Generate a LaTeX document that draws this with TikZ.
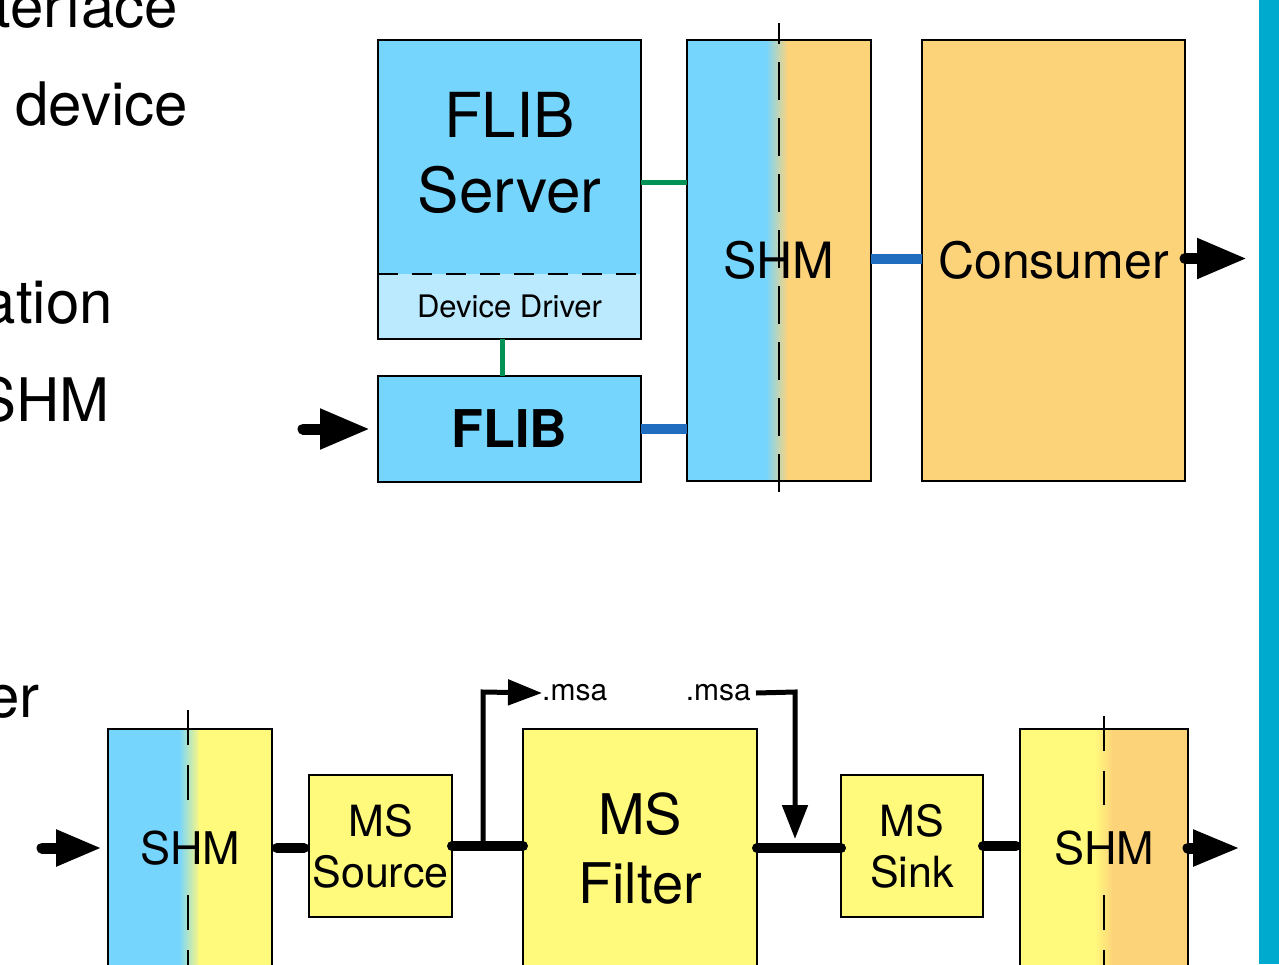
\documentclass[tikz,border=0pt]{standalone}
\usepackage{fontspec}
\setmainfont{TeX Gyre Heros}
\usetikzlibrary{arrows.meta}

\definecolor{flibblue}{RGB}{118,213,253}
\definecolor{drvblue}{RGB}{187,233,253}
\definecolor{shmorange}{RGB}{253,211,122}
\definecolor{msyellow}{RGB}{255,249,124}
\definecolor{linkgreen}{RGB}{0,146,84}
\definecolor{linkblue}{RGB}{32,108,190}
\definecolor{sidebar}{RGB}{0,169,206}

\newcommand\fsz[2]{\fontsize{#1}{#2}\selectfont}

\tikzset{
  box/.style={draw=black, line width=2.8pt, inner sep=0pt, outer sep=0pt,
              anchor=north west, align=center},
  bare/.style={box, draw=none},
  divider/.style={line width=2.4pt, dash pattern=on 35pt off 20pt},
  greenlink/.style={draw=linkgreen, line width=5pt},
  bluelink/.style={draw=linkblue, line width=10pt},
  blacklink/.style={draw=black, line width=10pt, line cap=round},
  bigarrow/.style={draw=black, line width=11pt, line cap=round,
                   -{Triangle[length=50pt,width=38pt]}},
  smallarrow/.style={draw=black, line width=5pt,
                   -{Triangle[length=34pt,width=25pt]}},
  sidetext/.style={anchor=base east, inner sep=0pt, font=\fsz{60}{72}},
  tag/.style={inner sep=0pt, font=\fsz{30}{36}}
}

\begin{document}
\begin{tikzpicture}[x=1pt,y=-1pt]
\useasboundingbox (0,0) rectangle (1279,964);
\clip (0,0) rectangle (1279,964);

% running slide text on the left
\node[sidetext] (t1) at (178,27) {terface};
\node[sidetext] (t2) at (188,125) {device};
\node[sidetext] (t3) at (113,323) {ation};
\node[sidetext] (t4) at (110,421) {SHM};
\node[sidetext] (t5) at (40,717) {er};

% side bar
\fill[sidebar] (1259,0) rectangle (1279,964);

% ---------------- upper chain: FLIB -> SHM -> Consumer ----------------
\node[bare, fill=flibblue, minimum width=263pt, minimum height=226pt,
      font=\fsz{62}{75}] (server) at (378,40) {FLIB\\Server};
\fill[flibblue] (server.south west) rectangle ([yshift=-8pt]server.south east);
\node[bare, fill=drvblue, minimum width=263pt, minimum height=65pt,
      font=\fsz{31}{36}] (driver) at (378,274) {Device Driver};
\draw[line width=2.8pt] (server.north west) rectangle (driver.south east);
\draw[line width=2.4pt, dash pattern=on 20pt off 14pt]
  (driver.north west) -- (driver.north east);

\node[box, fill=flibblue, minimum width=263pt, minimum height=106pt,
      font=\fsz{52}{60}\bfseries] (flib) at (378,376) {FLIB};

% shared memory: blue side fades into orange side
\fill[flibblue] (687,40) rectangle (767,481);
\shade[left color=flibblue, right color=shmorange] (766,40) rectangle (788,481);
\fill[shmorange] (787,40) rectangle (871,481);
\node[box, minimum width=184pt, minimum height=441pt,
      font=\fsz{50}{60}] (shm) at (687,40) {SHM};
\draw[line width=2.4pt, dash pattern=on 38pt off 18pt, dash phase=17pt]
  (779,23) -- (779,494);

\node[box, fill=shmorange, minimum width=263pt, minimum height=441pt,
      font=\fsz{50}{60}] (consumer) at (922,40) {Consumer};

\draw[greenlink] ([yshift=-142pt]server.north east) -- ([yshift=-142pt]shm.north west);
\draw[greenlink] ([xshift=-7pt]driver.south) -- ([xshift=-7pt]flib.north);
\draw[bluelink] (flib.east) -- (flib.east -| shm.west);
\draw[bluelink] ([yshift=2pt]shm.east) -- ([yshift=2pt]consumer.west);

\coordinate (in1) at (303,429);
\coordinate (out1) at (1247,258.5);
\draw[bigarrow, shorten >=8pt] (in1) -- (flib.west);
\draw[bigarrow] ([yshift=2pt]consumer.east) -- (out1);

% ---------------- lower chain: SHM -> MS Source -> MS Filter -> MS Sink -> SHM ----------------
\fill[flibblue] (108,729) rectangle (180,968);
\shade[left color=flibblue, right color=msyellow] (179,729) rectangle (200,968);
\fill[msyellow] (199,729) rectangle (272,968);
\node[box, minimum width=164pt, minimum height=238pt,
      font=\fsz{45}{54}] (shmA) at (108,729) {SHM};
\draw[divider] (188,710) -- (188,800);
\draw[divider] (188,895) -- (188,968);

\node[box, fill=msyellow, line width=2.4pt, minimum width=143pt, minimum height=142pt,
      font=\fsz{43}{51}] (src) at (309,775) {MS\\Source};
\node[box, fill=msyellow, line width=2.4pt, minimum width=234pt, minimum height=238pt,
      font=\fsz{56}{69}] (flt) at (523,729) {MS\\Filter};
\node[box, fill=msyellow, line width=2.4pt, minimum width=142pt, minimum height=142pt,
      font=\fsz{43}{51}] (snk) at (841,775) {MS\\Sink};

\fill[msyellow] (1020,729) rectangle (1097,968);
\shade[left color=msyellow, right color=shmorange] (1095,729) rectangle (1113,968);
\fill[shmorange] (1112,729) rectangle (1188,968);
\node[box, minimum width=168pt, minimum height=238pt,
      font=\fsz{45}{54}] (shmB) at (1020,729) {SHM};
\draw[divider] (1104,716) -- (1104,805);
\draw[divider] (1104,895) -- (1104,968);

\draw[blacklink, shorten <=5pt, shorten >=5pt] (shmA.east) -- (shmA.east -| src.west);
\draw[blacklink] (src.east) -- (src.east -| flt.west);
\draw[blacklink] (flt.east) -- (flt.east -| snk.west);
\draw[blacklink, shorten >=4pt] (snk.east) -- (snk.east -| shmB.west);

% archive taps
\node[tag, anchor=west] (msa1) at (542,693) {.msa};
\node[tag, anchor=east] (msa2) at (751,693) {.msa};
\coordinate (m1) at (483,692);
\coordinate (m2) at (795,692);
\draw[smallarrow] (src.east -| m1) -- (m1) -- (msa1.west);
\draw[smallarrow, shorten >=9pt] ([xshift=5pt]msa2.east) -- (m2) -- (m2 |- flt.east);

\coordinate (in2) at (42,848);
\coordinate (out2) at (1240,848);
\draw[bigarrow, -{Triangle[length=46pt,width=34pt]}, shorten >=6pt] (in2) -- (shmA.west);
\draw[bigarrow, -{Triangle[length=47pt,width=34pt]}] (shmB.east) -- (out2);
\end{tikzpicture}
\end{document}
